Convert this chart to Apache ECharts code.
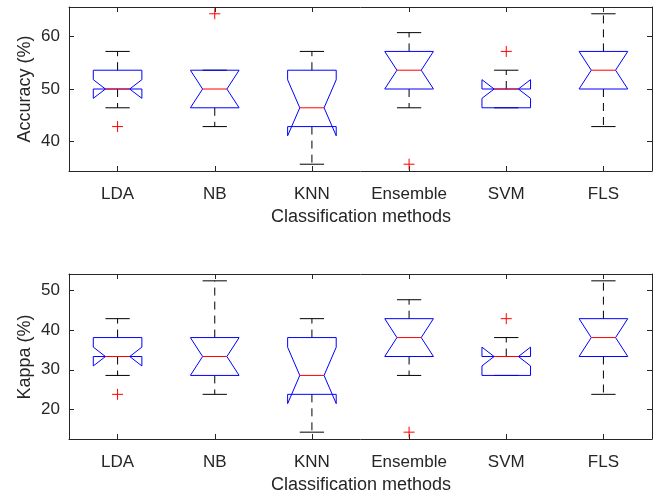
<!DOCTYPE html>
<html>
<head>
<meta charset="utf-8">
<script src="https://cdn.jsdelivr.net/npm/echarts@6/dist/echarts.min.js"></script>
<style>
  html, body { margin: 0; padding: 0; background: #fff; }
  #chart { width: 660px; height: 497px; }
</style>
</head>
<body>
<div id="chart"></div>
<script>
// Classification methods compared over repeated trials
const categories = ['LDA', 'NB', 'KNN', 'Ensemble', 'SVM', 'FLS'];

// Accuracy (%) summary per method
const accLow  = [46.43, 42.86, 35.71, 46.43, 46.43, 42.86];
const accQ1   = [50.00, 46.43, 42.86, 50.00, 46.43, 50.00];
const accMed  = [50.00, 50.00, 46.43, 53.57, 50.00, 53.57];
const accQ3   = [53.57, 53.57, 53.57, 57.14, 50.00, 57.14];
const accHigh = [57.14, 53.57, 57.14, 60.71, 53.57, 64.29];
const accOutliers = [[0, 42.86], [1, 64.29], [3, 35.71], [4, 57.14]];
const accTicks = [40, 50, 60];

// Kappa (%) summary per method
const kapLow  = [28.57, 23.81, 14.29, 28.57, 28.57, 23.81];
const kapQ1   = [33.33, 28.57, 23.81, 33.33, 28.57, 33.33];
const kapMed  = [33.33, 33.33, 28.57, 38.10, 33.33, 38.10];
const kapQ3   = [38.10, 38.10, 38.10, 42.86, 33.33, 42.86];
const kapHigh = [42.86, 52.38, 42.86, 47.62, 38.10, 52.38];
const kapOutliers = [[0, 23.81], [3, 14.29], [4, 42.86]];
const kapTicks = [20, 30, 40, 50];

// Notch half-height = 1.57 * IQR / sqrt(n)
const N_TRIALS = 10;
const NOTCH_K = 1.57;

const TEXT = '#262626';
const FONT = 'Liberation Sans, Arial, Helvetica, sans-serif';
const BLUE = '#0000ff';
const RED = '#ff0000';

function boxRows(low, q1, med, q3, high) {
  return categories.map((c, i) => [i, low[i], q1[i], med[i], q3[i], high[i]]);
}

function renderBox(params, api) {
  const i = api.value(0);
  const lo = api.value(1), q1 = api.value(2), med = api.value(3), q3 = api.value(4), hi = api.value(5);
  const band = api.size([1, 0])[0];
  const hw = band * 0.25;      // half box width
  const nw = hw * 0.5;         // half width at notch waist / whisker cap
  const half = NOTCH_K * (q3 - q1) / Math.sqrt(N_TRIALS);
  const nHi = med + half, nLo = med - half;
  const cx = api.coord([i, med])[0];
  const y = v => api.coord([i, v])[1];
  const wStyle = { stroke: '#000', lineWidth: 1, lineDash: [8, 6] };
  const cStyle = { stroke: '#000', lineWidth: 1 };
  return {
    type: 'group',
    children: [
      { type: 'line', shape: { x1: cx, y1: y(q3), x2: cx, y2: y(hi) }, style: wStyle },
      { type: 'line', shape: { x1: cx, y1: y(q1), x2: cx, y2: y(lo) }, style: wStyle },
      { type: 'line', shape: { x1: cx - nw, y1: y(hi), x2: cx + nw, y2: y(hi) }, style: cStyle },
      { type: 'line', shape: { x1: cx - nw, y1: y(lo), x2: cx + nw, y2: y(lo) }, style: cStyle },
      {
        type: 'polygon',
        shape: {
          points: [
            [cx - hw, y(q3)], [cx - hw, y(nHi)], [cx - nw, y(med)], [cx - hw, y(nLo)], [cx - hw, y(q1)],
            [cx + hw, y(q1)], [cx + hw, y(nLo)], [cx + nw, y(med)], [cx + hw, y(nHi)], [cx + hw, y(q3)]
          ]
        },
        style: { fill: 'none', stroke: BLUE, lineWidth: 1 }
      },
      { type: 'line', shape: { x1: cx - nw, y1: y(med), x2: cx + nw, y2: y(med) }, style: { stroke: RED, lineWidth: 1 } }
    ]
  };
}

function renderPlus(params, api) {
  const p = api.coord([api.value(0), api.value(1)]);
  const s = 5.5;
  const st = { stroke: RED, lineWidth: 1 };
  return {
    type: 'group',
    children: [
      { type: 'line', shape: { x1: p[0] - s, y1: p[1], x2: p[0] + s, y2: p[1] }, style: st },
      { type: 'line', shape: { x1: p[0], y1: p[1] - s, x2: p[0], y2: p[1] + s }, style: st }
    ]
  };
}

const grids = [
  { left: 69, right: 8, top: 7, height: 164 },
  { left: 69, right: 8, top: 274, height: 165 }
];

function xAxes(gi) {
  const base = {
    type: 'category', data: categories, gridIndex: gi, boundaryGap: true,
    axisLine: { show: true, lineStyle: { color: TEXT, width: 1 } },
    axisTick: { show: true, inside: true, length: 5, alignWithLabel: true, interval: 0, lineStyle: { color: TEXT } },
    splitLine: { show: false }
  };
  return [
    Object.assign({}, base, {
      position: 'bottom',
      axisLabel: { show: true, margin: 15, interval: 0, color: TEXT, fontSize: 17, fontFamily: FONT }
    }),
    Object.assign({}, base, { position: 'top', axisLabel: { show: false } })
  ];
}

function yAxes(gi, min, max, ticks) {
  const base = {
    type: 'value', gridIndex: gi, min: min, max: max,
    axisLine: { show: true, lineStyle: { color: TEXT, width: 1 } },
    axisTick: { show: true, inside: true, length: 5, customValues: ticks, lineStyle: { color: TEXT } },
    splitLine: { show: false }
  };
  return [
    Object.assign({}, base, {
      position: 'left',
      axisLabel: { show: true, margin: 9, customValues: ticks, color: TEXT, fontSize: 17, fontFamily: FONT }
    }),
    Object.assign({}, base, { position: 'right', axisLabel: { show: false } })
  ];
}

const xAxis = [...xAxes(0), ...xAxes(1)];
const yAxis = [...yAxes(0, 34.42, 65.58, accTicks), ...yAxes(1, 12.57, 54.1, kapTicks)];

const chart = echarts.init(document.getElementById('chart'), null, { renderer: 'canvas' });
chart.setOption({
  animation: false,
  backgroundColor: '#fff',
  grid: grids,
  xAxis: xAxis,
  yAxis: yAxis,
  series: [
    { type: 'custom', xAxisIndex: 0, yAxisIndex: 0, renderItem: renderBox,
      data: boxRows(accLow, accQ1, accMed, accQ3, accHigh), encode: { x: 0, y: [1, 2, 3, 4, 5] } },
    { type: 'custom', xAxisIndex: 0, yAxisIndex: 0, renderItem: renderPlus,
      data: accOutliers, encode: { x: 0, y: 1 } },
    { type: 'custom', xAxisIndex: 2, yAxisIndex: 2, renderItem: renderBox,
      data: boxRows(kapLow, kapQ1, kapMed, kapQ3, kapHigh), encode: { x: 0, y: [1, 2, 3, 4, 5] } },
    { type: 'custom', xAxisIndex: 2, yAxisIndex: 2, renderItem: renderPlus,
      data: kapOutliers, encode: { x: 0, y: 1 } }
  ],
  graphic: [
    { type: 'text', x: 361, y: 217, style: { text: 'Classification methods', fill: TEXT, font: '18px ' + FONT, align: 'center', verticalAlign: 'middle' } },
    { type: 'text', x: 361, y: 485, style: { text: 'Classification methods', fill: TEXT, font: '18px ' + FONT, align: 'center', verticalAlign: 'middle' } },
    { type: 'text', x: 25, y: 89, rotation: Math.PI / 2, style: { text: 'Accuracy (%)', fill: TEXT, font: '18px ' + FONT, align: 'center', verticalAlign: 'middle' } },
    { type: 'text', x: 25, y: 357, rotation: Math.PI / 2, style: { text: 'Kappa (%)', fill: TEXT, font: '18px ' + FONT, align: 'center', verticalAlign: 'middle' } }
  ]
});
</script>
</body>
</html>
